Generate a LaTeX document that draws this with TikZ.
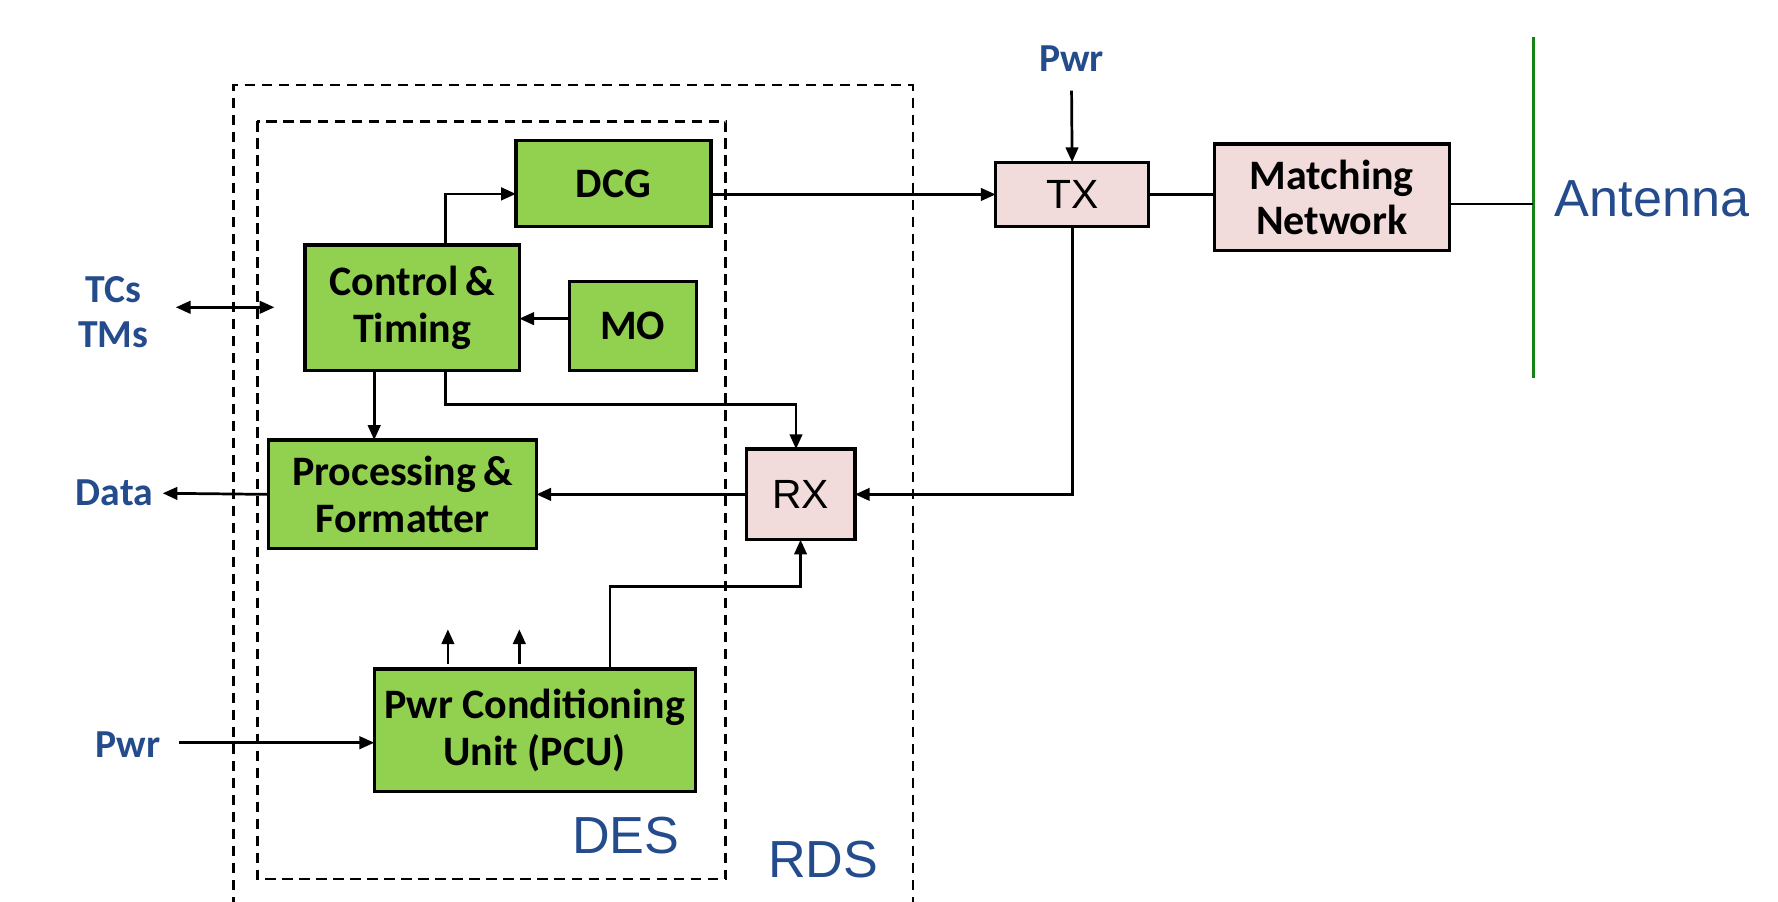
\documentclass[tikz,border=0pt]{standalone}
\usepackage{fontspec}
\setmainfont{Carlito}
\newfontfamily\arialf{Liberation Sans}
\usetikzlibrary{arrows.meta,calc}
\definecolor{boxgreen}{HTML}{92D050}
\definecolor{boxpink}{HTML}{F2DCDB}
\definecolor{lblblue}{RGB}{36,75,140}
\definecolor{antgreen}{RGB}{20,130,20}
\begin{document}
\begin{tikzpicture}[x=0.5pt,y=-0.5pt,
  gbox/.style={draw,line width=1.4pt,fill=boxgreen,inner sep=0pt,outer sep=0pt,align=center,font=\fontsize{18.5}{21}\selectfont\bfseries},
  pbox/.style={draw,line width=1.4pt,fill=boxpink,inner sep=0pt,outer sep=0pt,align=center},
  arr/.style={line width=1.2pt,-{Triangle[length=6.5pt,width=5.5pt]}},
  darr/.style={line width=1.2pt,{Triangle[length=6.5pt,width=5.5pt]}-{Triangle[length=6.5pt,width=5.5pt]}},
  ln/.style={line width=1.2pt},
  dbox/.style={line width=1.1pt,dash pattern=on 4.5pt off 3pt},
  lbl/.style={text=lblblue,font=\fontsize{17.5}{20}\selectfont\bfseries,align=center,inner sep=0pt},
  big/.style={text=lblblue,font=\arialf\fontsize{23}{26}\selectfont,inner sep=0pt}
]
\useasboundingbox (0,0) rectangle (1568,795);

% dashed enclosures
\coordinate (rdsBL) at (206,800);
\coordinate (rdsTR) at (805,75);
\coordinate (rdsBR) at (805,800);
\draw[dbox] (rdsBL) |- (rdsTR) -- (rdsBR);
\coordinate (desTL) at (227,107);
\coordinate (desBR) at (640,775);
\draw[dbox] (desTL) rectangle (desBR);

% boxes
\node[gbox,minimum width=86pt,minimum height=38pt] (dcg) at (541,162) {DCG};
\node[gbox,minimum width=94.5pt,minimum height=55.5pt] (ctl) at (363.5,271.5) {Control\,\&\\Timing};
\node[gbox,minimum width=56pt,minimum height=39.5pt] (mo) at (558,287.5) {MO};
\node[gbox,minimum width=118pt,minimum height=48pt] (pf) at (355,436) {Processing\,\&\\Formatter};
\node[pbox,minimum width=48pt,minimum height=40pt,font=\arialf\fontsize{18}{20}\selectfont] (rx) at (706,436) {RX};
\node[gbox,minimum width=141.5pt,minimum height=54pt] (pcu) at (471.5,644) {Pwr Conditioning\\Unit (PCU)};
\node[pbox,minimum width=67.5pt,minimum height=28.5pt,font=\arialf\fontsize{18}{20}\selectfont] (tx) at (945.5,171.5) {TX};
\node[pbox,minimum width=103.5pt,minimum height=47pt,font=\fontsize{18.5}{20}\selectfont\bfseries] (mn) at (1174.5,174) {Matching\\Network};

% labels
\node[lbl] (pwrT) at (945,52) {Pwr};
\node[lbl] (tctm) at (100,275) {TCs\\TMs};
\node[lbl] (data) at (101,435) {Data};
\node[lbl] (pwrL) at (113,657) {Pwr};
\node[big] (des) at (552,737) {DES};
\node[big] (rds) at (726,758) {RDS};
\node[big] (ant) at (1457,175) {Antenna};

% antenna
\coordinate (antT) at (1352,33);
\coordinate (antB) at (1352,333);
\draw[line width=1.3pt,antgreen] (antT) -- (antB);

% helper coordinates
\coordinate (c393) at (393,171);
\coordinate (c357) at (702,357);
\coordinate (c517) at (538,517);
\coordinate (pwrTend) at (945,80);
\coordinate (tcL) at (155,271);
\coordinate (tcR) at (242,271);
\coordinate (pwrLs) at (158,655);
\coordinate (moY) at (502,281);
\coordinate (c330) at (330,0);
\coordinate (a1s) at (395,586);
\coordinate (a1e) at (395,555);
\coordinate (a2s) at (458,586);
\coordinate (a2e) at (458,555);
\coordinate (mnOut) at (1278,180);

% connectors
\draw[arr] (ctl.north -| c393) |- (dcg.west |- c393);
\draw[arr] (dcg.east |- tx.west) -- (tx.west);
\draw[arr] (pwrTend) -- (tx.north);
\draw[ln] (tx.east) -- (mn.west |- tx.east);
\draw[ln] (mnOut) -- (antT |- mnOut);
\draw[arr] (tx.south) |- (rx.east);
\draw[arr] (rx.west) -- (pf.east |- rx.west);
\draw[arr] (pf.west) -- ([xshift=4pt]data.east);
\draw[darr] (tcL) -- (tcR);
\draw[arr] (moY) -- (ctl.east |- moY);
\draw[arr] (ctl.south -| c330) -- (pf.north -| c330);
\draw[arr] (ctl.south -| c393) |- (c357) -- (rx.north -| c357);
\draw[arr] (pcu.north -| c517) |- (c517 -| rx.south) -- (rx.south);
\draw[arr] (a1s) -- (a1e);
\draw[arr] (a2s) -- (a2e);
\draw[arr] (pwrLs) -- (pcu.west |- pwrLs);
\end{tikzpicture}
\end{document}
